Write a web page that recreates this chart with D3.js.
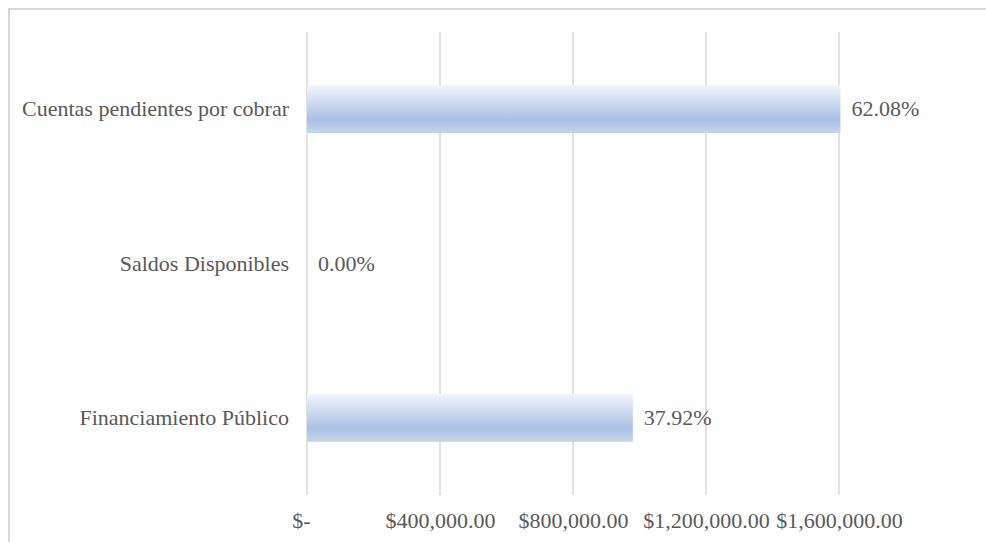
<!DOCTYPE html>
<html>
<head>
<meta charset="utf-8">
<script src="https://cdn.jsdelivr.net/npm/d3@7"></script>
<style>
html,body{margin:0;padding:0;background:#fff;}
svg{display:block;}
</style>
</head>
<body>
<svg id="chart" width="986" height="542"></svg>
<script>
const categories = ["Cuentas pendientes por cobrar", "Saldos Disponibles", "Financiamiento Público"];
const values = [1604400, 0, 980000];
const tickValues = [0, 400000, 800000, 1200000, 1600000];
const tickLabels = ["$-", "$400,000.00", "$800,000.00", "$1,200,000.00", "$1,600,000.00"];

const FONT = "Liberation Serif";
const TXT = "#595959";
const svg = d3.select("#chart").attr("font-family", FONT);
const W = 986, H = 542;
const plot = {left: 307, right: 839, top: 32, bottom: 495};

svg.append("rect").attr("x", 9).attr("y", 9).attr("width", W + 10).attr("height", H + 10)
  .attr("fill", "#fff").attr("stroke", "#d9d9d9").attr("stroke-width", 2);

const defs = svg.append("defs");
const grad = defs.append("linearGradient").attr("id", "barGrad")
  .attr("x1", 0).attr("y1", 0).attr("x2", 0).attr("y2", 1);
grad.append("stop").attr("offset", "0%").attr("stop-color", "#f1f4fb");
grad.append("stop").attr("offset", "72%").attr("stop-color", "#abc0e4");
grad.append("stop").attr("offset", "100%").attr("stop-color", "#c6d4ed");

const x = d3.scaleLinear().domain([0, 1600000]).range([plot.left, plot.right]);
const y = d3.scaleBand().domain(categories).range([plot.top, plot.bottom]).paddingInner(0.69).paddingOuter(0.345);

// gridlines
svg.append("g").selectAll("line").data(tickValues).join("line")
  .attr("x1", d => x(d)).attr("x2", d => x(d))
  .attr("y1", plot.top).attr("y2", plot.bottom)
  .attr("stroke", "#d9d9d9").attr("stroke-width", 1.5);

// x axis labels
const xAxis = d3.axisBottom(x).tickValues(tickValues)
  .tickFormat((d, i) => tickLabels[i]).tickSize(0).tickPadding(0);
const gx = svg.append("g").attr("transform", `translate(0,${plot.bottom})`).call(xAxis)
  .attr("font-family", FONT).attr("font-size", 22);
gx.select(".domain").remove();
gx.selectAll("text").attr("font-size", 22).attr("dy", "0.32em").attr("y", 26)
  .attr("dx", (d, i) => i === 0 ? -6 : 0)
  .attr("font-family", FONT).attr("fill", TXT);

// y axis labels
const yAxis = d3.axisLeft(y).tickSize(0).tickPadding(0);
const gy = svg.append("g").attr("transform", `translate(${plot.left - 18},0)`).call(yAxis)
  .attr("font-family", FONT).attr("font-size", 22);
gy.select(".domain").remove();
gy.selectAll("text").attr("font-size", 22).attr("dy", "0.32em")
  .attr("font-family", FONT).attr("fill", TXT);

const data = categories.map((c, i) => ({c, v: values[i]}));
const total = d3.sum(values);

svg.append("g").selectAll("rect").data(data).join("rect")
  .attr("x", x(0)).attr("y", d => y(d.c))
  .attr("width", d => x(d.v) - x(0)).attr("height", y.bandwidth())
  .attr("fill", "url(#barGrad)");

svg.append("g").selectAll("text").data(data).join("text")
  .attr("x", d => x(d.v) + 11).attr("y", d => y(d.c) + y.bandwidth() / 2)
  .attr("dy", "0.32em").attr("font-size", 22)
  .attr("font-family", FONT).attr("fill", TXT)
  .text(d => d3.format(".2%")(d.v / total));
</script>
</body>
</html>
